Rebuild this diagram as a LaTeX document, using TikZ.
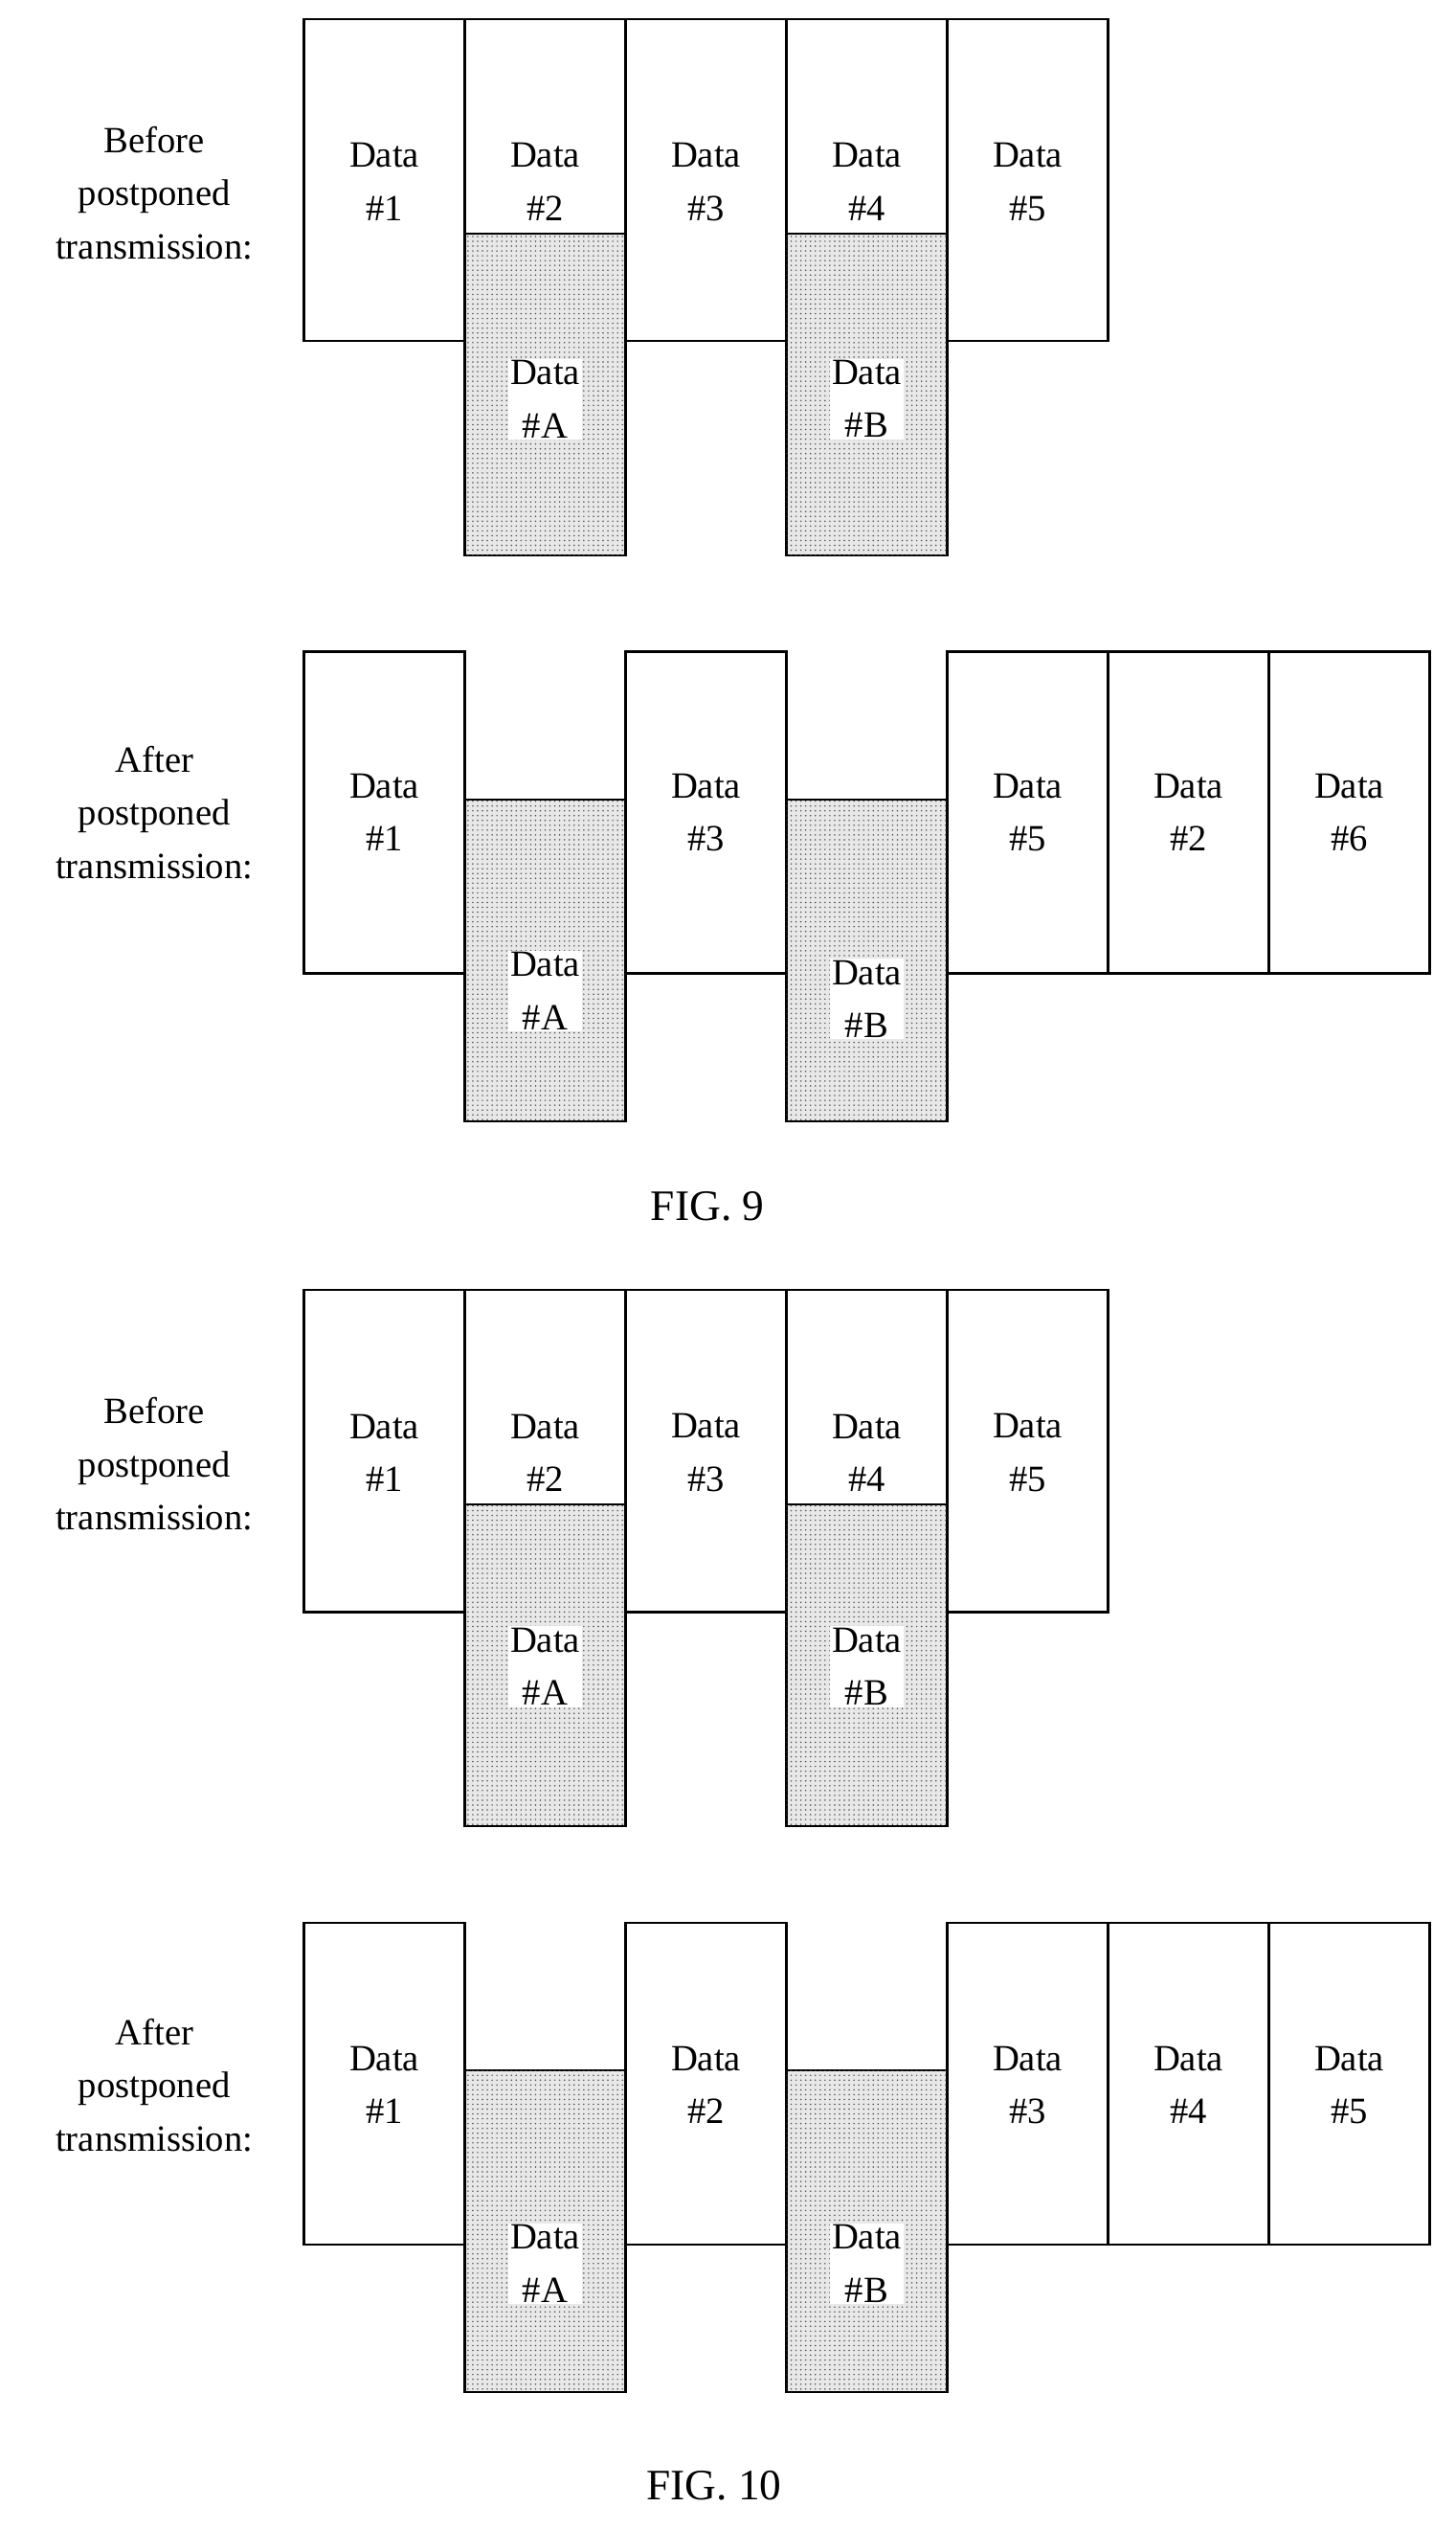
\documentclass[tikz,border=0pt]{standalone}
\usepackage{fontspec}
\setmainfont{Liberation Serif}
\usetikzlibrary{patterns}
\begin{document}
\begin{tikzpicture}[x=1pt,y=-1pt,
  wbox/.style={draw=black,line width=1.3pt,fill=white},
  sbox/.style={draw=black,line width=1.3pt,fill=gray!18,postaction={pattern=dots,pattern color=black!70}},
  txt/.style={font=\fontsize{23}{33}\selectfont,align=center,inner sep=1pt},
  stxt/.style={txt,fill=white},
  lbl/.style={font=\fontsize{23}{33}\selectfont,align=center,inner sep=0pt},
  figcap/.style={font=\fontsize{27}{32}\selectfont,inner sep=0pt}]
\useasboundingbox (0,0) rectangle (905,1572);
% ---------- FIG 9 before
\foreach \x/\t [count=\i] in {189/1,289/2,389/3,489/4,589/5}{
  \draw[wbox] (\x,12) rectangle ++(100,200);
  \node[txt] (a\i) at (\x+50,113) {Data\\\#\t};}
\draw[sbox] (289,145) rectangle (389,345);
\draw[sbox] (489,145) rectangle (589,345);
\node[stxt] (aA) at (339,248) {Data\\\#A};
\node[stxt] (aB) at (539,248) {Data\\\#B};
\node[lbl] (la) at (96,120) {Before\\postponed\\transmission:};
% ---------- FIG 9 after
\foreach \x/\t [count=\i] in {189/1,389/3,589/5,689/2,789/6}{
  \draw[wbox] (\x,405) rectangle ++(100,200);
  \node[txt] (b\i) at (\x+50,505) {Data\\\#\t};}
\draw[sbox] (289,497) rectangle (389,697);
\draw[sbox] (489,497) rectangle (589,697);
\node[stxt] (bA) at (339,616) {Data\\\#A};
\node[stxt] (bB) at (539,621) {Data\\\#B};
\node[lbl] (lb) at (96,505) {After\\postponed\\transmission:};
\node[figcap] (f9) at (440,750) {FIG. 9};
% ---------- FIG 10 before
\foreach \x/\t [count=\i] in {189/1,289/2,389/3,489/4,589/5}{
  \draw[wbox] (\x,802) rectangle ++(100,200);
  \node[txt] (c\i) at (\x+50,903) {Data\\\#\t};}
\draw[sbox] (289,935) rectangle (389,1135);
\draw[sbox] (489,935) rectangle (589,1135);
\node[stxt] (cA) at (339,1036) {Data\\\#A};
\node[stxt] (cB) at (539,1036) {Data\\\#B};
\node[lbl] (lc) at (96,910) {Before\\postponed\\transmission:};
% ---------- FIG 10 after
\foreach \x/\t [count=\i] in {189/1,389/2,589/3,689/4,789/5}{
  \draw[wbox] (\x,1195) rectangle ++(100,200);
  \node[txt] (d\i) at (\x+50,1296) {Data\\\#\t};}
\draw[sbox] (289,1287) rectangle (389,1487);
\draw[sbox] (489,1287) rectangle (589,1487);
\node[stxt] (dA) at (339,1407) {Data\\\#A};
\node[stxt] (dB) at (539,1407) {Data\\\#B};
\node[lbl] (ld) at (96,1296) {After\\postponed\\transmission:};
\node[figcap] (f10) at (444,1545) {FIG. 10};
\end{tikzpicture}
\end{document}
